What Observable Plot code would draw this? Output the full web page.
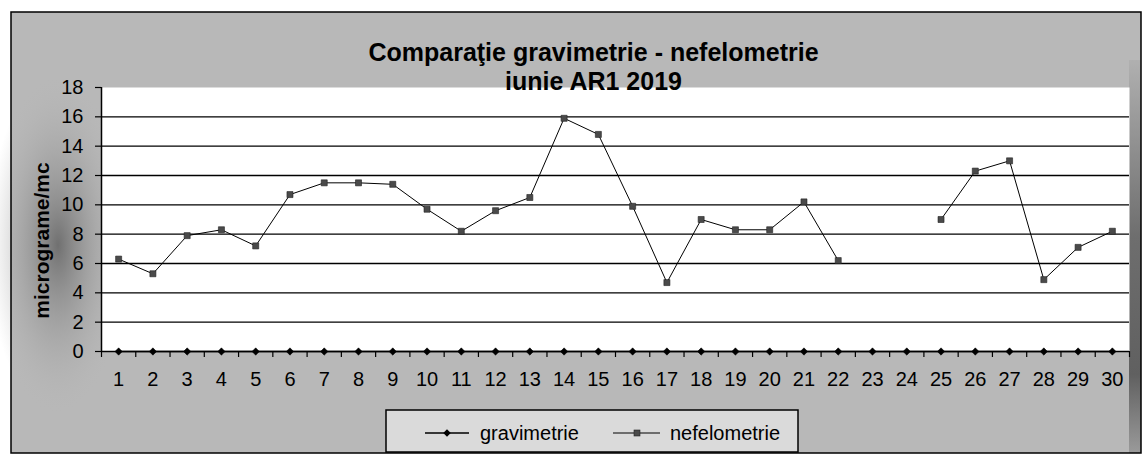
<!DOCTYPE html>
<html><head><meta charset="utf-8">
<script src="https://cdn.jsdelivr.net/npm/d3@7"></script>
<script src="https://cdn.jsdelivr.net/npm/@observablehq/plot@0.6"></script>
<style>
html,body{margin:0;padding:0;background:#fff;}
#chart svg{display:block;}
</style>
</head><body><div id="chart"></div>
<script>
const days = [1,2,3,4,5,6,7,8,9,10,11,12,13,14,15,16,17,18,19,20,21,22,23,24,25,26,27,28,29,30];
const gravimetrie = [0,0,0,0,0,0,0,0,0,0,0,0,0,0,0,0,0,0,0,0,0,0,0,0,0,0,0,0,0,0];
const nefelometrie = [6.3,5.3,7.9,8.3,7.2,10.7,11.5,11.5,11.4,9.7,8.2,9.6,10.5,15.9,14.8,9.9,4.7,9.0,8.3,8.3,10.2,6.2,null,null,9.0,12.3,13.0,4.9,7.1,8.2];
const yTicks = [0,2,4,6,8,10,12,14,16,18];
const seriesNames = ["gravimetrie","nefelometrie"];
const titleLines = ["Comparaţie gravimetrie - nefelometrie","iunie AR1 2019"];
const yLabel = "micrograme/mc";

const FONT = "'Liberation Sans', Arial, sans-serif";
const grav = days.map((d,i)=>({day:d, value:gravimetrie[i]}));
const nef = days.map((d,i)=>({day:d, value: nefelometrie[i] == null ? NaN : nefelometrie[i]}));
const bounds = days.map(d=>d-0.5).concat([days[days.length-1]+0.5]);
const gridTicks = yTicks.filter(t => t > 0 && t < 18);

const plot = Plot.plot({
  width:1144, height:458,
  marginLeft:101, marginRight:15, marginTop:87, marginBottom:107,
  style:{fontFamily:FONT, background:"white", color:"black", overflow:"visible"},
  x:{type:"linear", domain:[0.5,30.5]},
  y:{domain:[0,18]},
  marks:[
    Plot.frame({fill:"white", stroke:null}),
    Plot.ruleY(gridTicks, {stroke:"black", strokeWidth:1.3}),
    Plot.axisY(yTicks, {tickSize:6, tickPadding:12, fontSize:20, label:null, stroke:"black", strokeWidth:1.2}),
    Plot.axisX(days, {tickSize:0, tickPadding:20, fontSize:20, label:null}),
    Plot.axisX(bounds, {tickSize:6, tickFormat:()=>"", label:null, stroke:"black", strokeWidth:1.2}),
    Plot.ruleX([0.5], {stroke:"black", strokeWidth:1.5}),
    Plot.ruleY([0], {stroke:"black", strokeWidth:1.5}),
    Plot.line(nef, {x:"day", y:"value", stroke:"black", strokeWidth:1}),
    Plot.dot(nef.filter(d=>!isNaN(d.value)), {x:"day", y:"value", symbol:"square", r:3.4, fill:"#4a4a4a", stroke:"#222", strokeWidth:0.6}),
    Plot.line(grav, {x:"day", y:"value", stroke:"black", strokeWidth:1.5}),
    Plot.dot(grav, {x:"day", y:"value", symbol:"diamond2", r:3.3, fill:"black", stroke:"black", strokeWidth:0.5}),
    Plot.text([titleLines[0]], {frameAnchor:"top", dx:-22, dy:-35, fontSize:25, fontWeight:"bold", fill:"black", lineAnchor:"middle"}),
    Plot.text([titleLines[1]], {frameAnchor:"top", dx:-22, dy:-6, fontSize:25, fontWeight:"bold", fill:"black", lineAnchor:"middle"}),
    Plot.text([yLabel], {frameAnchor:"left", dx:-59, dy:21, rotate:-90, fontSize:21, fontWeight:"bold", fill:"black", textAnchor:"middle", lineAnchor:"middle"})
  ]
});

const svg = d3.select(plot);
const defs = svg.insert("defs", ":first-child");
const rg = defs.append("radialGradient").attr("id","leftDark").attr("cx","0.5").attr("cy","0.5").attr("r","0.5");
rg.append("stop").attr("offset","0%").attr("stop-color","#707070").attr("stop-opacity",1);
rg.append("stop").attr("offset","100%").attr("stop-color","#b8b8b8").attr("stop-opacity",0);
const lg = defs.append("linearGradient").attr("id","rightDark").attr("x1",0).attr("y1",0).attr("x2",0).attr("y2",1);
lg.append("stop").attr("offset","0%").attr("stop-color","#b0b0b0");
lg.append("stop").attr("offset","45%").attr("stop-color","#6e6e6e");
lg.append("stop").attr("offset","80%").attr("stop-color","#606060");
lg.append("stop").attr("offset","100%").attr("stop-color","#9a9a9a");

const bg = svg.insert("g", "defs + *");
bg.append("rect").attr("x",11).attr("y",12).attr("width",1130).attr("height",441).attr("fill","#b8b8b8");
bg.append("ellipse").attr("cx",58).attr("cy",245).attr("rx",70).attr("ry",170).attr("fill","url(#leftDark)");
bg.append("rect").attr("x",1129).attr("y",60).attr("width",12).attr("height",393).attr("fill","url(#rightDark)");
bg.append("rect").attr("x",11).attr("y",12).attr("width",1130).attr("height",441).attr("fill","none").attr("stroke","black").attr("stroke-width",1.5);

// legend
const leg = svg.append("g").attr("font-family", FONT).attr("font-size", 20).attr("text-anchor","start");
leg.append("rect").attr("x",386).attr("y",410).attr("width",412).attr("height",42).attr("fill","#dadada").attr("stroke","black").attr("stroke-width",1.5);
leg.append("line").attr("x1",425).attr("x2",469).attr("y1",433).attr("y2",433).attr("stroke","black").attr("stroke-width",1.5);
leg.append("path").attr("d", d3.symbol(d3.symbolDiamond2, 36)()).attr("transform","translate(447,433)").attr("fill","black");
leg.append("text").attr("x",480).attr("y",440).attr("text-anchor","start").attr("fill","black").text(seriesNames[0]);
leg.append("line").attr("x1",613).attr("x2",660).attr("y1",433).attr("y2",433).attr("stroke","black").attr("stroke-width",1);
leg.append("rect").attr("x",634).attr("y",430).attr("width",6).attr("height",6).attr("fill","#4a4a4a").attr("stroke","#222").attr("stroke-width",0.6);
leg.append("text").attr("x",670).attr("y",440).attr("text-anchor","start").attr("fill","black").text(seriesNames[1]);

document.getElementById("chart").appendChild(plot);
</script>
</body></html>
